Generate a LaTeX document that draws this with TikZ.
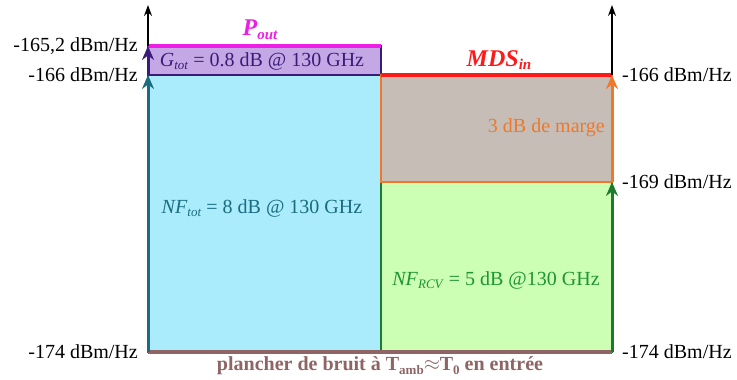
\documentclass[tikz,border=0pt]{standalone}
\usepackage{fontspec}
\setmainfont{Liberation Serif}
\usepackage{xcolor}
\usepackage{tikz}
\usetikzlibrary{arrows.meta, positioning}

\definecolor{nfblue}{HTML}{AAECFB}
\definecolor{nfteal}{HTML}{1A6C80}
\definecolor{gviolet}{HTML}{C4A8E6}
\definecolor{gdark}{HTML}{3A1B78}
\definecolor{mgtaupe}{HTML}{C6BDB7}
\definecolor{mgorange}{HTML}{F07828}
\definecolor{rcvgreen}{HTML}{CCFFB4}
\definecolor{rcvdark}{HTML}{1E7A2E}
\definecolor{rcvtext}{HTML}{1E9432}
\definecolor{mdsred}{HTML}{FF1A1A}
\definecolor{poutpink}{HTML}{EE1EE6}
\definecolor{floorbrown}{HTML}{8E6464}

\newcommand\lowtxt[1]{\raisebox{-0.35ex}{\fontsize{13}{14}\selectfont #1}}
\newcommand\biglow[1]{\raisebox{-0.35ex}{\fontsize{15}{16}\selectfont #1}}

\begin{document}
\begin{tikzpicture}[
      x=1pt, y=1pt,
      every node/.style={font=\fontsize{20}{24}\selectfont, inner sep=0pt},
      title/.style={font=\fontsize{24}{28}\selectfont\bfseries\itshape},
      axis/.style={-{Stealth[length=11pt, width=8pt]}, line width=1.2pt},
      level/.style={-{Stealth[length=14pt, width=12pt]}, line width=3pt},
      band/.style={line width=3.2pt},
      box/.style={line width=1.5pt}
    ]
      \useasboundingbox (0,0) rectangle (737,380);

      \coordinate (L174) at (148,28);
      \coordinate (L166) at (148,305);
      \coordinate (L165) at (148,334);
      \coordinate (Ltop) at (148,375);
      \coordinate (M174) at (381,28);
      \coordinate (M169) at (381,198);
      \coordinate (M166) at (381,305);
      \coordinate (M165) at (381,334);
      \coordinate (R174) at (612,28);
      \coordinate (R169) at (612,198);
      \coordinate (R166) at (612,305);
      \coordinate (Rtop) at (612,375);

      \filldraw[box, fill=nfblue, draw=nfteal] (L174) rectangle (M166);
      \filldraw[box, fill=gviolet, draw=gdark] (L166) rectangle (M165);
      \filldraw[box, fill=rcvgreen, draw=rcvdark] (M174) rectangle (R169);
      \filldraw[box, fill=mgtaupe, draw=mgorange] (M169) rectangle (R166);

      \draw[band, draw=mdsred] (M166) -- (R166);
      \draw[band, draw=poutpink] (L165) -- (M165);
      \draw[band, draw=floorbrown] (L174) -- (R174);

      \draw[level, draw=nfteal] (L174) -- (L166);
      \draw[level, draw=gdark] (L166) -- (L165);
      \draw[axis] (L165) -- (Ltop);
      \draw[level, draw=rcvdark] (R174) -- (R169);
      \draw[level, draw=mgorange] (R169) -- (R166);
      \draw[axis] (R166) -- (Rtop);

      \node (l174) [left=10pt of L174] {-174 dBm/Hz};
      \node (l166) [left=10pt of L166] {-166 dBm/Hz};
      \node (l165) [left=10pt of L165] {-165,2 dBm/Hz};
      \node (r174) [right=10pt of R174] {-174 dBm/Hz};
      \node (r169) [right=10pt of R169] {-169 dBm/Hz};
      \node (r166) [right=10pt of R166] {-166 dBm/Hz};

      \node (pout) [title, text=poutpink] at (260,350) {P\biglow{out}};
      \node (mds) [title, text=mdsred] at (499,320) {MDS\biglow{in}};
      \node (gtot) [text=gdark] at (262,319) {\textit{G}\lowtxt{\textit{tot}} = 0.8 dB @ 130 GHz};
      \node (nftot) [text=nfteal] at (262,172) {\textit{NF}\lowtxt{\textit{tot}} = 8 dB @ 130 GHz};
      \node (marge) [text=mgorange, anchor=east] at (605,252) {3 dB de marge};
      \node (nfrcv) [text=rcvtext] at (496,100) {\textit{NF}\lowtxt{\textit{RCV}} = 5 dB @130 GHz};
      \node (floor) [text=floorbrown] at (380,14) {\textbf{plancher de bruit à T\lowtxt{amb}$\approx$T\lowtxt{0} en entrée}};
    \end{tikzpicture}
\end{document}
